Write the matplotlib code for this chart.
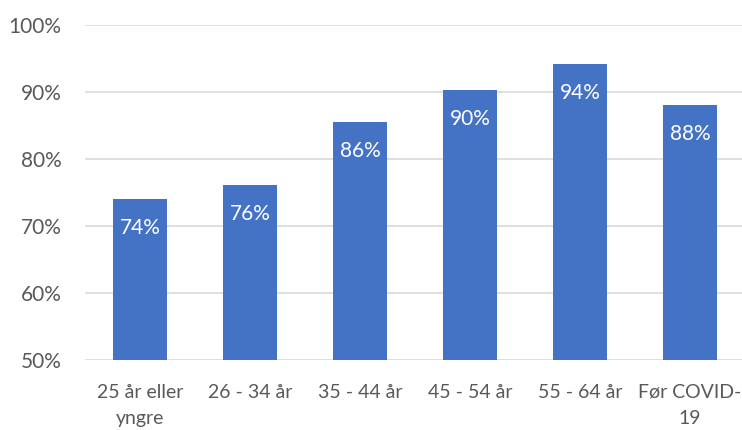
import matplotlib
matplotlib.use("Agg")
import matplotlib.pyplot as plt
from matplotlib.ticker import FuncFormatter

categories = ["25 år eller\nyngre", "26 - 34 år", "35 - 44 år", "45 - 54 år", "55 - 64 år", "Før COVID-\n19"]
values = [74.0, 76.1, 85.5, 90.3, 94.1, 88.0]
labels = ["74%", "76%", "86%", "90%", "94%", "88%"]
yticks = [50, 60, 70, 80, 90, 100]

plt.rcParams['font.family'] = ['Lato', 'DejaVu Sans']

fig = plt.figure(figsize=(7.42, 4.30), dpi=100)
ax = fig.add_axes([85/742, 1-360/430, 660/742, (360-24.7)/430])

x = list(range(len(categories)))
bars = ax.bar(x, values, width=0.49, color="#4472C4", zorder=3, bottom=0)
ax.set_ylim(50, 100)
ax.set_xlim(-0.5, len(categories)-0.5)
ax.set_yticks(yticks)
ax.yaxis.set_major_formatter(FuncFormatter(lambda v, p: f"{int(v)}%"))
ax.set_xticks(x)
ax.set_xticklabels(categories, linespacing=1.65)
ax.grid(axis='y', color="#D9D9D9", lw=1.2, zorder=0)
for s in ax.spines.values():
    s.set_visible(False)
ax.tick_params(axis='both', length=0, colors="#595959", labelsize=15)
ax.tick_params(axis='x', pad=17, labelsize=14)
ax.tick_params(axis='y', pad=17)
for t in ax.get_xticklabels()[-1:]:
    t.set_x(t.get_position()[0])

for b, lab in zip(bars, labels):
    ax.annotate(lab, (b.get_x()+b.get_width()/2, b.get_height()),
                xytext=(0, -21), textcoords='offset points',
                ha='center', va='center', color='white', fontsize=15, zorder=4)

fig.savefig("out.png", dpi=100)
